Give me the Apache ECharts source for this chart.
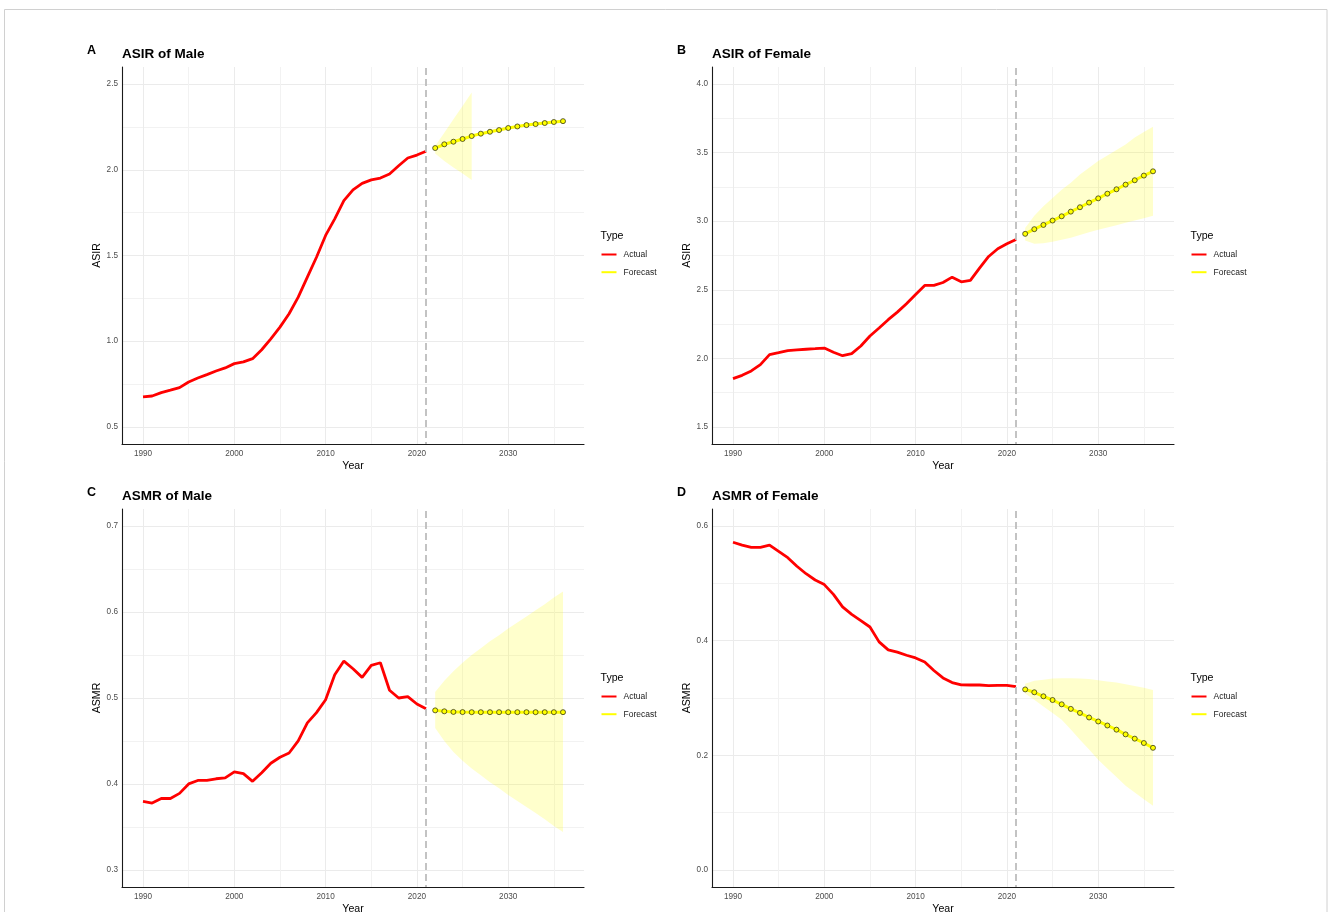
<!DOCTYPE html>
<html>
<head>
<meta charset="utf-8">
<script src="https://cdn.jsdelivr.net/npm/echarts@6/dist/echarts.min.js"></script>
<style>
  html, body { margin: 0; padding: 0; background: #ffffff; }
  #chart { width: 1328px; height: 912px; }
</style>
</head>
<body>
<div id="chart"></div>
<script>
// ---- years ----
const actualYears = [1990, 1991, 1992, 1993, 1994, 1995, 1996, 1997, 1998, 1999,
  2000, 2001, 2002, 2003, 2004, 2005, 2006, 2007, 2008, 2009,
  2010, 2011, 2012, 2013, 2014, 2015, 2016, 2017, 2018, 2019,
  2020, 2021];
const forecastYears = [2022, 2023, 2024, 2025, 2026, 2027, 2028, 2029, 2030,
  2031, 2032, 2033, 2034, 2035, 2036];
const cutYear = 2021;

// ---- A: ASIR of Male ----
const asirMaleActual = [0.675, 0.680, 0.700, 0.714, 0.729, 0.762, 0.785, 0.805, 0.826, 0.844,
  0.869, 0.879, 0.898, 0.950, 1.014, 1.082, 1.160, 1.257, 1.374, 1.490,
  1.617, 1.714, 1.820, 1.883, 1.921, 1.941, 1.952, 1.976, 2.024, 2.069,
  2.086, 2.108];
const asirMaleForecast = [2.127, 2.149, 2.164, 2.180, 2.197, 2.211, 2.222, 2.232, 2.244,
  2.253, 2.261, 2.267, 2.273, 2.279, 2.284];
const asirMaleUpper = [2.139, 2.217, 2.295, 2.373, 2.451, null, null, null, null,
  null, null, null, null, null, null];
const asirMaleLower = [2.095, 2.051, 2.014, 1.978, 1.941, null, null, null, null,
  null, null, null, null, null, null];

// ---- B: ASIR of Female ----
const asirFemaleActual = [1.852, 1.876, 1.908, 1.954, 2.027, 2.041, 2.056, 2.061, 2.066, 2.070,
  2.075, 2.044, 2.019, 2.034, 2.090, 2.163, 2.221, 2.282, 2.337, 2.398,
  2.466, 2.532, 2.532, 2.553, 2.592, 2.558, 2.568, 2.658, 2.743, 2.799,
  2.835, 2.867];
const asirFemaleForecast = [2.908, 2.942, 2.973, 3.005, 3.036, 3.070, 3.102, 3.136, 3.167,
  3.201, 3.233, 3.267, 3.299, 3.333, 3.364];
const asirFemaleUpper = [2.950, 3.040, 3.110, 3.170, 3.230, 3.280, 3.340, 3.390, 3.440,
  3.480, 3.520, 3.560, 3.610, 3.650, 3.690];
const asirFemaleLower = [2.860, 2.835, 2.840, 2.850, 2.865, 2.880, 2.900, 2.920, 2.937,
  2.955, 2.970, 2.988, 3.005, 3.022, 3.040];

// ---- C: ASMR of Male ----
const asmrMaleActual = [0.3796, 0.3777, 0.383, 0.383, 0.389, 0.400, 0.404, 0.404, 0.406, 0.407,
  0.414, 0.412, 0.403, 0.413, 0.424, 0.431, 0.436, 0.450, 0.471, 0.483,
  0.498, 0.527, 0.543, 0.534, 0.524, 0.538, 0.541, 0.509, 0.500, 0.5015,
  0.493, 0.4876];
const asmrMaleForecast = [0.4856, 0.4845, 0.4838, 0.4836, 0.4835, 0.4835, 0.4835, 0.4835, 0.4835,
  0.4835, 0.4835, 0.4835, 0.4835, 0.4835, 0.4835];
const asmrMaleUpper = [0.507, 0.520, 0.531, 0.541, 0.550, 0.558, 0.566, 0.573, 0.581,
  0.588, 0.595, 0.602, 0.609, 0.617, 0.624];
const asmrMaleLower = [0.465, 0.450, 0.437, 0.427, 0.418, 0.410, 0.402, 0.395, 0.387,
  0.380, 0.373, 0.366, 0.359, 0.351, 0.344];

// ---- D: ASMR of Female ----
const asmrFemaleActual = [0.572, 0.567, 0.563, 0.563, 0.567, 0.556, 0.545, 0.530, 0.517, 0.506,
  0.498, 0.481, 0.459, 0.446, 0.435, 0.424, 0.398, 0.384, 0.380, 0.3746,
  0.370, 0.363, 0.348, 0.335, 0.327, 0.323, 0.3227, 0.3227, 0.3216, 0.322,
  0.322, 0.320];
const asmrFemaleForecast = [0.315, 0.310, 0.303, 0.2965, 0.289, 0.281, 0.274, 0.266, 0.259,
  0.252, 0.2447, 0.2365, 0.229, 0.2214, 0.213];
const asmrFemaleUpper = [0.325, 0.330, 0.332, 0.334, 0.3345, 0.3345, 0.334, 0.333, 0.331,
  0.329, 0.327, 0.324, 0.321, 0.318, 0.314];
const asmrFemaleLower = [0.308, 0.297, 0.285, 0.274, 0.262, 0.245, 0.227, 0.210, 0.192,
  0.177, 0.162, 0.147, 0.135, 0.123, 0.112];

// ---- axis ticks ----
const xRange = [1987.7, 2038.3];
const xGridTicks = [1990, 1995, 2000, 2005, 2010, 2015, 2020, 2025, 2030, 2035];
const xLabelTicks = [1990, 2000, 2010, 2020, 2030];

const yRangeA = [0.4, 2.6];
const yGridTicksA = [0.5, 0.75, 1.0, 1.25, 1.5, 1.75, 2.0, 2.25, 2.5];
const yLabelTicksA = [0.5, 1.0, 1.5, 2.0, 2.5];

const yRangeB = [1.375, 4.125];
const yGridTicksB = [1.5, 1.75, 2.0, 2.25, 2.5, 2.75, 3.0, 3.25, 3.5, 3.75, 4.0];
const yLabelTicksB = [1.5, 2.0, 2.5, 3.0, 3.5, 4.0];

const yRangeC = [0.28, 0.72];
const yGridTicksC = [0.3, 0.35, 0.4, 0.45, 0.5, 0.55, 0.6, 0.65, 0.7];
const yLabelTicksC = [0.3, 0.4, 0.5, 0.6, 0.7];

const yRangeD = [-0.03, 0.63];
const yGridTicksD = [0.0, 0.1, 0.2, 0.3, 0.4, 0.5, 0.6];
const yLabelTicksD = [0.0, 0.2, 0.4, 0.6];

// ---- panel set-up ----
const FONT = '"Liberation Sans", Arial, Helvetica, sans-serif';

const panels = [
  { tag: 'A', title: 'ASIR of Male', yName: 'ASIR', actual: asirMaleActual, forecast: asirMaleForecast,
    upper: asirMaleUpper, lower: asirMaleLower, yRange: yRangeA, yGrid: yGridTicksA, yLabels: yLabelTicksA,
    box: { left: 122, top: 67, width: 462, height: 377 } },
  { tag: 'B', title: 'ASIR of Female', yName: 'ASIR', actual: asirFemaleActual, forecast: asirFemaleForecast,
    upper: asirFemaleUpper, lower: asirFemaleLower, yRange: yRangeB, yGrid: yGridTicksB, yLabels: yLabelTicksB,
    box: { left: 712, top: 67, width: 462, height: 377 } },
  { tag: 'C', title: 'ASMR of Male', yName: 'ASMR', actual: asmrMaleActual, forecast: asmrMaleForecast,
    upper: asmrMaleUpper, lower: asmrMaleLower, yRange: yRangeC, yGrid: yGridTicksC, yLabels: yLabelTicksC,
    box: { left: 122, top: 509, width: 462, height: 378 } },
  { tag: 'D', title: 'ASMR of Female', yName: 'ASMR', actual: asmrFemaleActual, forecast: asmrFemaleForecast,
    upper: asmrFemaleUpper, lower: asmrFemaleLower, yRange: yRangeD, yGrid: yGridTicksD, yLabels: yLabelTicksD,
    box: { left: 712, top: 509, width: 462, height: 378 } }
];

const pairs = (xs, ys) => xs.map((x, i) => [x, ys[i]]);

// Prediction band drawn as one polygon through the axis scales.
function bandSeries(idx, years, lower, upper) {
  const rows = years.map((y, i) => [y, lower[i], upper[i]])
    .filter(r => r[1] != null && r[2] != null);
  return {
    type: 'custom',
    xAxisIndex: idx, yAxisIndex: idx,
    silent: true, z: 1, clip: true,
    data: rows,
    encode: { x: 0, y: [1, 2] },
    renderItem(params, api) {
      if (params.dataIndex !== 0) return null;
      const pts = [];
      rows.forEach(r => pts.push(api.coord([r[0], r[2]])));
      rows.slice().reverse().forEach(r => pts.push(api.coord([r[0], r[1]])));
      return { type: 'polygon', shape: { points: pts }, style: { fill: 'rgba(255,255,0,0.2)' } };
    }
  };
}

const grid = [], xAxis = [], yAxis = [], series = [], title = [], legend = [];

panels.forEach((p, i) => {
  const b = p.box;
  grid.push({ left: b.left, top: b.top, width: b.width, height: b.height,
    containLabel: false, outerBoundsMode: 'none' });

  xAxis.push({
    gridIndex: i, type: 'value', min: xRange[0], max: xRange[1],
    name: 'Year', nameLocation: 'middle', nameGap: 16.5,
    nameTextStyle: { fontSize: 10.6, color: '#000000', fontFamily: FONT },
    axisLine: { show: true, onZero: false, lineStyle: { color: '#1a1a1a', width: 1.1 } },
    axisTick: { show: false, customValues: xGridTicks },
    axisLabel: { customValues: xLabelTicks, formatter: v => String(v), fontSize: 8.2,
      color: '#4D4D4D', margin: 5.5, fontFamily: FONT },
    splitLine: { show: true, lineStyle: { color: ['#EBEBEB', '#F2F2F2'], width: 1 } }
  });

  yAxis.push({
    gridIndex: i, type: 'value', min: p.yRange[0], max: p.yRange[1],
    name: p.yName, nameLocation: 'middle', nameGap: 18.5,
    nameTextStyle: { fontSize: 10.6, color: '#000000', fontFamily: FONT },
    axisLine: { show: true, onZero: false, lineStyle: { color: '#1a1a1a', width: 1.1 } },
    axisTick: { show: false, customValues: p.yGrid },
    axisLabel: { customValues: p.yLabels, formatter: v => v.toFixed(1), fontSize: 8.2,
      color: '#4D4D4D', margin: 4, fontFamily: FONT },
    splitLine: { show: true, lineStyle: { color: ['#EBEBEB', '#F2F2F2'], width: 1 } }
  });

  series.push(bandSeries(i, forecastYears, p.lower, p.upper));

  series.push({
    name: 'Actual', type: 'line', xAxisIndex: i, yAxisIndex: i, z: 3,
    data: pairs(actualYears, p.actual),
    showSymbol: false, symbol: 'none',
    itemStyle: { color: '#FF0000' },
    lineStyle: { color: '#FF0000', width: 2.8 },
    markLine: {
      silent: true, symbol: ['none', 'none'], label: { show: false },
      lineStyle: { color: '#BDBDBD', type: [7, 4], width: 1.8, dashOffset: -6 },
      data: [{ xAxis: cutYear }]
    }
  });

  series.push({
    name: 'Forecast', type: 'line', xAxisIndex: i, yAxisIndex: i, z: 4,
    data: pairs(forecastYears, p.forecast),
    symbol: 'circle', symbolSize: 5, showSymbol: true,
    itemStyle: { color: '#FFFF00', borderColor: '#3a3a1a', borderWidth: 0.8 },
    lineStyle: { color: '#FFFF00', width: 3 }
  });

  // panel tag and heading
  title.push({
    text: p.tag, left: b.left - 35, top: b.top - 25, padding: 0,
    textStyle: { fontSize: 12.5, fontWeight: 'bold', color: '#000', fontFamily: FONT, lineHeight: 18 }
  });
  title.push({
    text: p.title, left: b.left, top: b.top - 21, padding: 0,
    textStyle: { fontSize: 13.5, fontWeight: 'bold', color: '#000', fontFamily: FONT, lineHeight: 17 }
  });
  // legend heading
  title.push({
    text: 'Type', left: b.left + b.width + 16.5, top: b.top + 163.5, padding: 0,
    textStyle: { fontSize: 10.6, fontWeight: 'normal', color: '#000', fontFamily: FONT, lineHeight: 12 }
  });

  legend.push({
    orient: 'vertical', left: b.left + b.width + 17.5, top: b.top + 181.5, padding: 0,
    data: ['Actual', 'Forecast'], icon: 'rect', itemWidth: 15, itemHeight: 2, itemGap: 5.7,
    selectedMode: false,
    itemStyle: { borderWidth: 0, borderColor: 'transparent' },
    textStyle: { fontSize: 8.5, color: '#1a1a1a', fontFamily: FONT, lineHeight: 12, padding: [0, 0, 0, 2] }
  });
});

const chart = echarts.init(document.getElementById('chart'), null, { renderer: 'canvas' });
chart.setOption({
  backgroundColor: '#ffffff',
  animation: false,
  textStyle: { fontFamily: FONT },
  graphic: [{
    type: 'rect', silent: true, z: 0,
    shape: { x: 4.5, y: 9.5, width: 1322.5, height: 920 },
    style: { fill: 'none', stroke: '#D0D0D0', lineWidth: 1 }
  }],
  grid, xAxis, yAxis, series, title, legend
});
</script>
</body>
</html>
